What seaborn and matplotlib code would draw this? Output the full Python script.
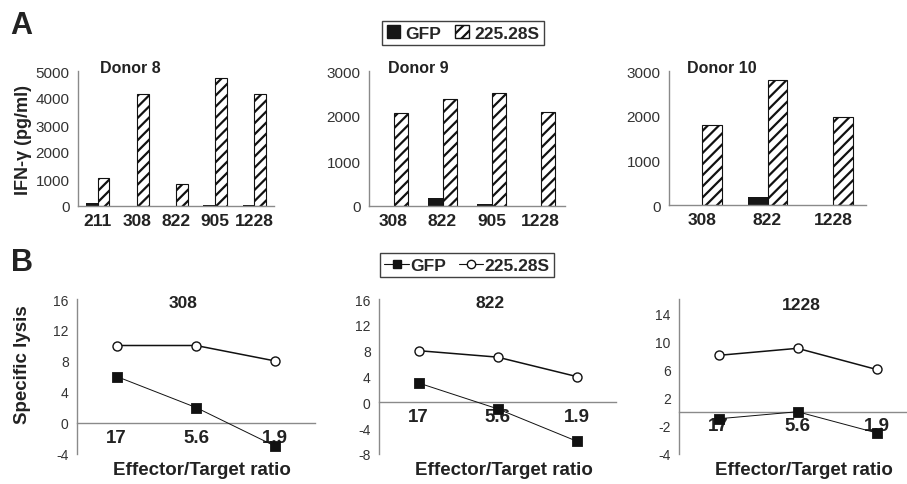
import numpy as np
import pandas as pd
import matplotlib
matplotlib.use('Agg')
import matplotlib.pyplot as plt
import seaborn as sns
from matplotlib.patches import Patch
from matplotlib.lines import Line2D

# IFN-gamma release (pg/ml), panel A
constructs = ['GFP', '225.28S']
donor8_cells = ['211', '308', '822', '905', '1228']
donor8_gfp = [110, 15, 10, 20, 20]
donor8_car = [1050, 4150, 820, 4750, 4150]
donor9_cells = ['308', '822', '905', '1228']
donor9_gfp = [0, 170, 50, 0]
donor9_car = [2075, 2380, 2520, 2100]
donor10_cells = ['308', '822', '1228']
donor10_gfp = [0, 190, 0]
donor10_car = [1800, 2790, 1960]

# Specific lysis, panel B
ratios = ['17', '5.6', '1.9']
lysis308_gfp = [6, 2, -3]
lysis308_car = [10, 10, 8]
lysis822_gfp = [3, -1, -6]
lysis822_car = [8, 7, 4]
lysis1228_gfp = [-1, 0, -3]
lysis1228_car = [8, 9, 6]

W, H = 907, 485
sns.set_style('white')
plt.rcParams['font.family'] = ['Liberation Sans', 'DejaVu Sans']
plt.rcParams['hatch.linewidth'] = 1.6
plt.rcParams['hatch.color'] = '#111111'

GRAY = '#8a8a8a'
TXT = '#222222'

fig = plt.figure(figsize=(W / 100, H / 100), dpi=100)


def px_axes(left, top, right, bottom):
    return fig.add_axes([left / W, 1 - bottom / H, (right - left) / W, (bottom - top) / H])


def style_spines(ax):
    for s in ['top', 'right']:
        ax.spines[s].set_visible(False)
    for s in ['left', 'bottom']:
        ax.spines[s].set_color(GRAY)
        ax.spines[s].set_linewidth(1.0)
    ax.tick_params(axis='both', which='major', color=GRAY, length=4, width=1.0,
                   direction='out')


def bar_panel(box, cells, gfp, car, ymax, step, label_every, title, tx):
    ax = px_axes(*box)
    df = pd.DataFrame({'cell': cells * 2,
                       'construct': ['GFP'] * len(cells) + ['225.28S'] * len(cells),
                       'ifng': gfp + car})
    sns.barplot(data=df, x='cell', y='ifng', hue='construct', order=cells,
                hue_order=constructs, palette=['#161616', 'white'], width=0.6,
                saturation=1, legend=False, ax=ax)
    for bar in ax.containers[0]:
        bar.set_linewidth(0)
    for bar in ax.containers[1]:
        bar.set_hatch('///')
        bar.set_edgecolor('#111111')
        bar.set_linewidth(0.8)
    style_spines(ax)
    n = len(cells)
    ax.set_xlim(-0.5, n - 0.5)
    ax.set_ylim(0, ymax)
    yt = np.arange(0, ymax + 1, step)
    ax.set_yticks(yt, [str(int(v)) if int(v) % label_every == 0 else '' for v in yt])
    ax.set_xticks(np.arange(-0.5, n, 1.0), [''] * (n + 1))
    ax.set_xticks(np.arange(n), cells, minor=True)
    ax.tick_params(axis='x', which='minor', length=0, pad=5, labelsize=12.5,
                   labelcolor=TXT)
    for t in ax.get_xticklabels(minor=True):
        t.set_fontweight('bold')
    ax.tick_params(axis='y', labelsize=11, labelcolor='#333333', pad=2)
    ax.set_xlabel('')
    ax.set_ylabel('')
    ax.text(tx, 1.025, title, transform=ax.transAxes, fontsize=11.5,
            fontweight='bold', color=TXT, va='center', ha='left')
    return ax


def lysis_panel(box, gfp, car, ylo, yhi, yticks, ylabels, title, tpos):
    ax = px_axes(*box)
    df = pd.DataFrame({'ratio': ratios * 2,
                       'construct': ['GFP'] * 3 + ['225.28S'] * 3,
                       'lysis': gfp + car})
    sns.pointplot(data=df, x='ratio', y='lysis', hue='construct', order=ratios,
                  hue_order=constructs, palette=['#111111', '#111111'],
                  markers=['s', 'o'], errorbar=None, legend=False, ax=ax)
    gl, cl = ax.lines[0], ax.lines[1]
    gl.set_linewidth(0.7)
    gl.set_markersize(6)
    gl.set_markerfacecolor('#111111')
    gl.set_markeredgecolor('#111111')
    cl.set_linewidth(1.1)
    cl.set_markersize(6.5)
    cl.set_markerfacecolor('white')
    cl.set_markeredgecolor('#111111')
    cl.set_markeredgewidth(1.0)
    for ln in ax.lines:
        ln.set_clip_on(False)
        ln.set_zorder(5)
    style_spines(ax)
    ax.spines['bottom'].set_position(('data', 0))
    ax.set_xlim(-0.5, 2.5)
    ax.set_ylim(ylo, yhi)
    ax.set_yticks(yticks, ylabels)
    ax.set_xticks([-0.5, 0.5, 1.5, 2.5], ['', '', '', ''])
    ax.set_xticks([0, 1, 2], ratios, minor=True)
    ax.tick_params(axis='x', which='minor', length=0, pad=4, labelsize=13.5,
                   labelcolor=TXT)
    for t in ax.get_xticklabels(minor=True):
        t.set_fontweight('bold')
    ax.tick_params(axis='y', labelsize=10, labelcolor='#333333', pad=2)
    ax.set_xlabel('')
    ax.set_ylabel('')
    ax.text(tpos[0], tpos[1], title, transform=ax.transAxes, fontsize=12.5,
            fontweight='bold', color=TXT, va='center', ha='center')
    cx = (box[0] + box[2]) / 2 + 6
    fig.text(cx / W, 1 - 471 / H, 'Effector/Target ratio', fontsize=13.5,
             fontweight='bold', color=TXT, ha='center', va='center')
    return ax


# Panel A
bar_panel((78, 72, 274, 207), donor8_cells, donor8_gfp, donor8_car, 5000, 1000, 1000,
          'Donor 8', 0.11)
bar_panel((369, 72, 565, 207), donor9_cells, donor9_gfp, donor9_car, 3000, 500, 1000,
          'Donor 9', 0.095)
bar_panel((669, 72, 866, 206), donor10_cells, donor10_gfp, donor10_car, 3000, 500, 1000,
          'Donor 10', 0.09)

# Panel B
lysis_panel((77, 300, 315, 455), lysis308_gfp, lysis308_car, -4, 16,
            [-4, 0, 4, 8, 12, 16], ['-4', '0', '4', '8', '12', '16'], '308', (0.445, 0.975))
lysis_panel((379, 300, 616, 455), lysis822_gfp, lysis822_car, -8, 16,
            [-8, -4, 0, 4, 8, 12, 16], ['-8', '-4', '0', '4', '8', '12', '16'], '822',
            (0.47, 0.975))
lysis_panel((679, 300, 916, 455), lysis1228_gfp, lysis1228_car, -6, 16,
            [-6, -2, 2, 6, 10, 14], ['-4', '-2', '2', '6', '10', '14'], '1228',
            (0.515, 0.965))

# Axis labels and panel letters
fig.text(24 / W, 1 - 140 / H, 'IFN-γ (pg/ml)', rotation=90, fontsize=13,
         fontweight='bold', color=TXT, ha='center', va='center')
fig.text(23 / W, 1 - 365 / H, 'Specific lysis', rotation=90, fontsize=13.5,
         fontweight='bold', color=TXT, ha='center', va='center')
fig.text(10 / W, 1 - 26 / H, 'A', fontsize=22, fontweight='bold', color=TXT,
         ha='left', va='center')
fig.text(11 / W, 1 - 263 / H, 'B', fontsize=22, fontweight='bold', color=TXT,
         ha='left', va='center')

# Legends
bar_handles = [Patch(facecolor='#161616', edgecolor='#161616', label='GFP'),
               Patch(facecolor='white', edgecolor='#111111', hatch='///', label='225.28S')]
leg_a = fig.legend(handles=bar_handles, loc='center', bbox_to_anchor=(463 / W, 1 - 34 / H),
                   ncol=2, frameon=True, fancybox=False, edgecolor='#111111',
                   handlelength=0.8, handleheight=0.8, handletextpad=0.3,
                   columnspacing=0.8, borderpad=0.25,
                   prop={'weight': 'bold', 'size': 12.5})
leg_a.get_frame().set_linewidth(1.0)

line_handles = [Line2D([0], [0], color='#111111', lw=0.8, marker='s', markersize=6,
                       label='GFP'),
                Line2D([0], [0], color='#111111', lw=0.8, marker='o', markersize=6,
                       markerfacecolor='white', label='225.28S')]
leg_b = fig.legend(handles=line_handles, loc='center', bbox_to_anchor=(467 / W, 1 - 266 / H),
                   ncol=2, frameon=True, fancybox=False, edgecolor='#111111',
                   handlelength=1.4, handletextpad=0.1, columnspacing=0.7,
                   borderpad=0.25, prop={'weight': 'bold', 'size': 12.5})
leg_b.get_frame().set_linewidth(1.0)

fig.savefig('out.png', dpi=100)
